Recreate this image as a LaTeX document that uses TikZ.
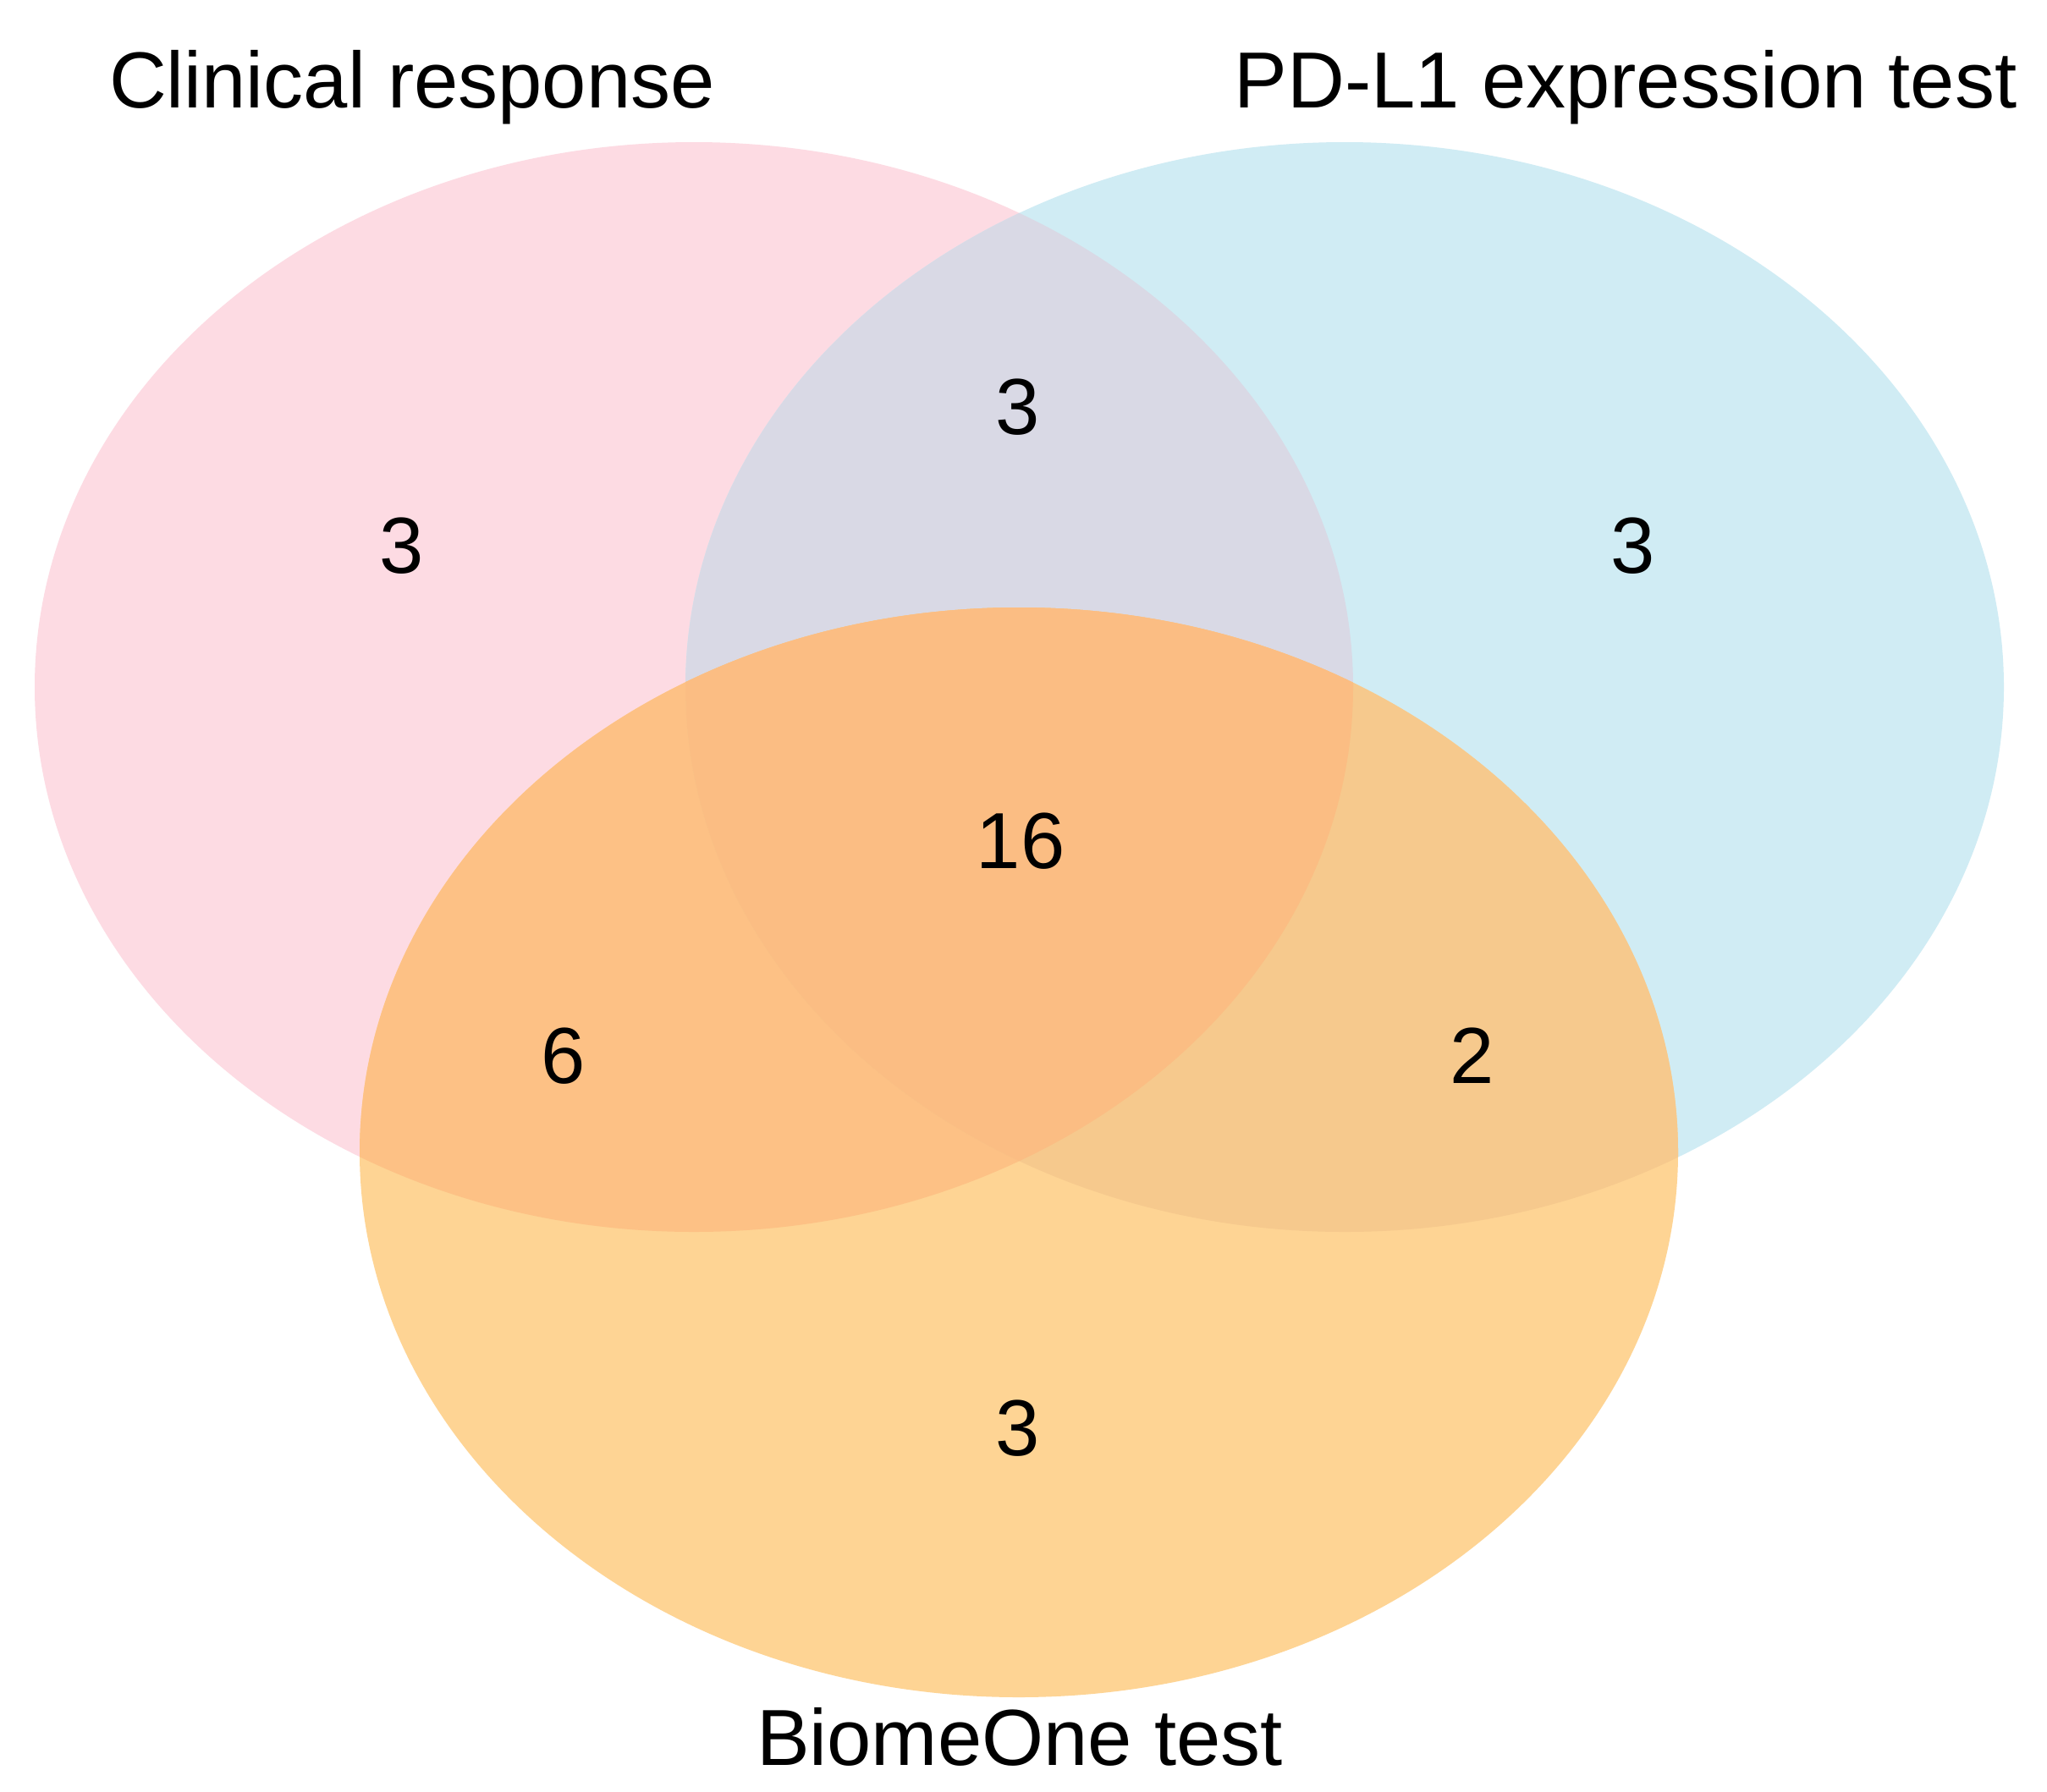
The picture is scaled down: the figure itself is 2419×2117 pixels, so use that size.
\documentclass[tikz,border=0pt]{standalone}
\usepackage{fontspec}
\setmainfont{Liberation Sans}
\definecolor{cP}{RGB}{253,219,227}
\definecolor{cB}{RGB}{208,236,244}
\definecolor{cO}{RGB}{254,212,148}
\definecolor{cPB}{RGB}{217,217,229}
\definecolor{cPO}{RGB}{253,193,133}
\definecolor{cBO}{RGB}{246,201,141}
\definecolor{cPBO}{RGB}{251,189,131}
\begin{document}
\begin{tikzpicture}[x=1bp,y=-1bp,
  lab/.style={inner sep=0pt, font=\fontsize{94bp}{110bp}\selectfont},
  num/.style={inner sep=0pt, anchor=center, font=\fontsize{94bp}{110bp}\selectfont}]
\def\pinkE{(820,812) ellipse [x radius=779, y radius=644]}
\def\blueE{(1589,812) ellipse [x radius=779, y radius=644]}
\def\orangeE{(1204,1362) ellipse [x radius=779, y radius=644]}
\useasboundingbox[fill=white] (0,0) rectangle (2419,2117);
\fill[cP] \pinkE;
\fill[cB] \blueE;
\begin{scope}
  \clip \pinkE;
  \fill[cPB] \blueE;
\end{scope}
\fill[cO] \orangeE;
\begin{scope}
  \clip \orangeE;
  \fill[cPO] \pinkE;
  \fill[cBO] \blueE;
  \clip \pinkE;
  \fill[cPBO] \blueE;
\end{scope}
\node[lab, anchor=base] (lcr) at (487,127) {Clinical response};
\node[lab, anchor=base] (lpd) at (1921,127) {PD-L1 expression test};
\node[lab, anchor=base] (lbo) at (1205,2086) {BiomeOne test};
\node[num] (n1) at (475,645) {3};
\node[num] (n2) at (1203,481) {3};
\node[num] (n3) at (1930,645) {3};
\node[num] (n4) at (1206,994) {16};
\node[num] (n5) at (666,1248) {6};
\node[num] (n6) at (1740,1248) {2};
\node[num] (n7) at (1203,1688) {3};
\end{tikzpicture}
\end{document}
